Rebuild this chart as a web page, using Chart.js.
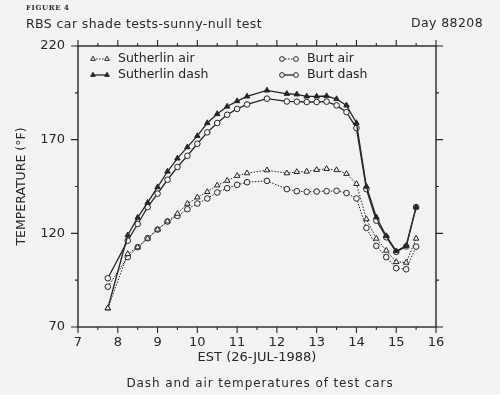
<!DOCTYPE html>
<html>
<head>
<meta charset="utf-8">
<script src="https://cdn.jsdelivr.net/npm/chart.js@4"></script>
<style>
  body { margin: 0; background: #f2f2f0; }
  #wrap { position: relative; width: 500px; height: 395px; }
  .txt { position: absolute; font-family: "DejaVu Sans", sans-serif; color: #2a2a2a; white-space: nowrap; }
</style>
</head>
<body>
<div id="wrap">
  <canvas id="grafico" width="500" height="395"></canvas>
  <div class="txt" style="left:26px;top:3px;font-family:'DejaVu Serif',serif;font-weight:bold;font-size:7px;letter-spacing:0.6px;">FIGURE 4</div>
  <div class="txt" style="left:26px;top:16px;font-size:12.5px;letter-spacing:0.4px;">RBS car shade tests-sunny-null test</div>
  <div class="txt" style="right:17px;top:15px;font-size:12.5px;letter-spacing:0.4px;">Day 88208</div>
  <div class="txt" style="left:0;width:520px;text-align:center;top:376px;font-size:12px;letter-spacing:0.9px;">Dash and air temperatures of test cars</div>
</div>
<script>
// horas (EST) das leituras
var horas = [7.75, 8.25, 8.5, 8.75, 9, 9.25, 9.5, 9.75, 10, 10.25, 10.5, 10.75, 11, 11.25,
             11.75, 12.25, 12.5, 12.75, 13, 13.25, 13.5, 13.75, 14, 14.25, 14.5, 14.75, 15, 15.25, 15.5];

// temperaturas (F)
var sutherlinAir  = [80, 109, 112.6, 117.2, 122, 126.4, 130.5, 135.8, 139.2, 142.1, 145.6, 148.1, 150.7, 152.1,
                     153.7, 152.1, 152.8, 153, 153.9, 154.4, 153.8, 151.8, 146.4, 127.6, 117.2, 110.8, 104.7, 104.4, 117.2];
var sutherlinDash = [80, 119, 128.4, 136.4, 144.7, 153, 160, 166, 172, 178.9, 183.7, 187.7, 190.6, 193.1,
                     196.3, 194.5, 194.2, 193.1, 193.1, 193.3, 191.7, 188.3, 178.9, 145, 128.6, 118.6, 110.5, 113.3, 134];
var burtAir       = [91.5, 107.3, 112.6, 117.4, 122, 126.3, 129.3, 132.9, 135.9, 138.6, 141.8, 144.1, 145.9, 147.3,
                     148, 143.6, 142.5, 142.2, 142.3, 142.5, 142.7, 141.5, 138.6, 122.9, 113.3, 107.3, 101.4, 100.8, 112.9];
var burtDash      = [96, 116.1, 125, 134, 141.2, 148.6, 155.4, 161.4, 167.8, 173.9, 178.9, 183.3, 186.4, 188.8,
                     191.9, 190.4, 190.3, 190.1, 190.1, 190.3, 188.3, 184.7, 176.2, 143.6, 126.8, 117.9, 110.1, 113, 134];

var xTicks = [7, 8, 9, 10, 11, 12, 13, 14, 15, 16];
var yTicks = [70, 120, 170, 220];

var tinta = '#262626';
var fundo = '#f2f2f0';
var fonte = '"DejaVu Sans", sans-serif';

function pontos(valores) {
    return horas.map(function (h, i) { return { x: h, y: valores[i] }; });
}

var series = [
    { label: 'Sutherlin air',  data: sutherlinAir,  estilo: 'triangle', cheio: false, pontilhado: true },
    { label: 'Sutherlin dash', data: sutherlinDash, estilo: 'triangle', cheio: true,  pontilhado: false },
    { label: 'Burt air',       data: burtAir,       estilo: 'circle',   cheio: false, pontilhado: true },
    { label: 'Burt dash',      data: burtDash,      estilo: 'circle',   cheio: false, pontilhado: false }
];

var dados = {
    datasets: series.map(function (s) {
        return {
            label: s.label,
            data: pontos(s.data),
            borderColor: tinta,
            borderWidth: s.pontilhado ? 1 : 1.3,
            borderDash: s.pontilhado ? [1.5, 1.5] : [],
            pointStyle: s.estilo,
            pointRadius: s.estilo === 'circle' ? 2.8 : 3.2,
            pointBorderWidth: 1,
            pointBorderColor: tinta,
            pointBackgroundColor: s.cheio ? tinta : fundo,
            tension: 0
        };
    })
};

// moldura com marcas em volta do grafico
var moldura = {
    id: 'moldura',
    afterDatasetsDraw: function (chart) {
        var c = chart.ctx, a = chart.chartArea;
        var sx = chart.scales.x, sy = chart.scales.y;
        c.save();
        c.strokeStyle = tinta;
        c.lineWidth = 1.4;
        c.strokeRect(a.left, a.top, a.right - a.left, a.bottom - a.top);
        c.lineWidth = 1.1;
        c.beginPath();
        for (var v = 7; v <= 16; v += 0.5) {
            var px = sx.getPixelForValue(v);
            var len = (v % 1 === 0) ? 6 : 3;
            c.moveTo(px, a.bottom); c.lineTo(px, a.bottom + len);
            c.moveTo(px, a.top); c.lineTo(px, a.top - len);
        }
        for (var w = 70; w <= 220; w += 25) {
            var py = sy.getPixelForValue(w);
            var l2 = ((w - 70) % 50 === 0) ? 7 : 3;
            c.moveTo(a.left, py); c.lineTo(a.left - l2, py);
            c.moveTo(a.right, py); c.lineTo(a.right + l2, py);
        }
        c.stroke();

        // legenda em duas colunas
        c.font = '12.5px ' + fonte;
        c.textBaseline = 'middle';
        c.fillStyle = tinta;
        var lugares = [[93, 59], [93, 75], [282, 59], [282, 75]];
        chart.data.datasets.forEach(function (ds, i) {
            var x0 = lugares[i][0], y0 = lugares[i][1];
            c.save();
            c.lineWidth = ds.borderWidth;
            c.setLineDash(ds.borderDash);
            c.beginPath(); c.moveTo(x0, y0); c.lineTo(x0 + 14, y0); c.stroke();
            c.restore();
            [x0, x0 + 14].forEach(function (mx) {
                c.save();
                c.fillStyle = ds.pointBackgroundColor;
                c.lineWidth = 1;
                Chart.helpers.drawPoint(c, { pointStyle: ds.pointStyle, radius: ds.pointRadius * 0.85, rotation: 0, borderWidth: 1 }, mx, y0);
                c.restore();
            });
            c.fillText(ds.label, x0 + 25, y0);
        });
        c.restore();
    }
};

var opcoes = {
    responsive: false,
    animation: false,
    layout: { padding: { top: 46, right: 64, left: 0, bottom: 0 } },
    plugins: { legend: { display: false }, tooltip: { enabled: false } },
    scales: {
        x: {
            type: 'linear', min: 7, max: 16,
            afterFit: function (s) { s.height = 68; },
            afterBuildTicks: function (s) { s.ticks = xTicks.map(function (v) { return { value: v }; }); },
            grid: { display: false, drawTicks: false },
            border: { display: false },
            ticks: { padding: 8, color: tinta, font: { family: fonte, size: 13 }, maxRotation: 0 },
            title: { display: true, text: 'EST (26-JUL-1988)', color: tinta,
                     font: { family: fonte, size: 13 }, padding: { top: 0, bottom: 30 } }
        },
        y: {
            type: 'linear', min: 70, max: 220,
            afterFit: function (s) { s.width = 78; },
            afterBuildTicks: function (s) { s.ticks = yTicks.map(function (v) { return { value: v }; }); },
            grid: { display: false, drawTicks: false },
            border: { display: false },
            ticks: { padding: 13, color: tinta, font: { family: fonte, size: 13 } },
            title: { display: true, text: 'TEMPERATURE (°F)', color: tinta,
                     font: { family: fonte, size: 12.5 }, padding: { top: 14, bottom: 0 } }
        }
    }
};

var ctx = document.querySelector('#grafico').getContext('2d');
var grafico = new Chart(ctx, {
    type: 'line',
    data: dados,
    options: opcoes,
    plugins: [moldura]
});
</script>
</body>
</html>
